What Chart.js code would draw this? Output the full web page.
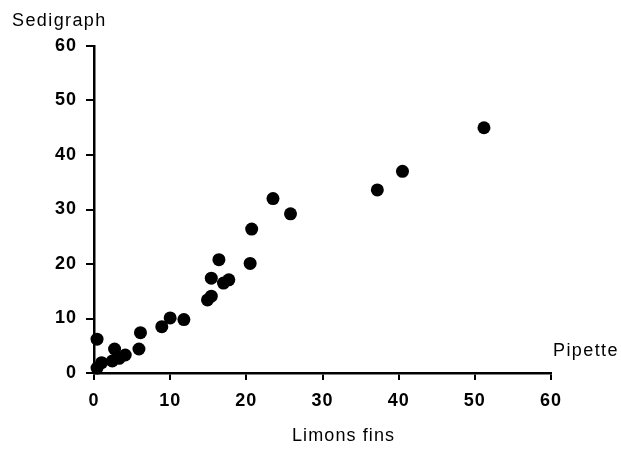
<!DOCTYPE html>
<html>
<head>
<meta charset="utf-8">
<script src="https://cdn.jsdelivr.net/npm/chart.js@4.4.1/dist/chart.umd.min.js"></script>
<style>
  html, body { margin: 0; padding: 0; background: #ffffff; }
  #wrap { width: 621px; height: 451px; position: relative; }
</style>
</head>
<body>
<div id="wrap"><canvas id="c" width="621" height="451"></canvas></div>
<script>
// Pipette (x) vs Sedigraph (y), "Limons fins"
const pipette   = [0.4, 0.4, 1.0, 2.4, 2.7, 3.3, 4.1, 5.9, 6.1, 8.9, 10.0, 11.8, 14.9, 15.4, 15.4, 16.4, 17.0, 17.7, 20.5, 20.7, 23.5, 25.8, 37.2, 40.5, 51.2];
const sedigraph = [6.2, 0.9, 1.9, 2.2, 4.4, 2.7, 3.3, 4.4, 7.4, 8.5, 10.1, 9.8, 13.4, 14.1, 17.4, 20.8, 16.5, 17.1, 20.1, 26.4, 32.0, 29.2, 33.6, 37.0, 45.0];
const tickValues = [0, 10, 20, 30, 40, 50, 60];
const xTitle = 'Limons fins';
const yTitle = 'Sedigraph';
const xEndLabel = 'Pipette';

const points = pipette.map((x, i) => ({ x: x, y: sedigraph[i] }));
const FONT = "'Liberation Sans', Arial, Helvetica, sans-serif";

const spacingPlugin = {
  id: 'spacing',
  beforeDraw(chart) {
    if ('letterSpacing' in chart.ctx) chart.ctx.letterSpacing = '1px';
  }
};

const textPlugin = {
  id: 'texts',
  afterDraw(chart) {
    const ctx = chart.ctx;
    ctx.save();
    ctx.fillStyle = '#000';
    ctx.font = '18px ' + FONT;
    ctx.textBaseline = 'alphabetic';
    ctx.textAlign = 'left';
    if ('letterSpacing' in ctx) ctx.letterSpacing = '1.4px';
    ctx.fillText(yTitle, 12, 26);
    ctx.fillText(xEndLabel, 553, 356);
    if ('letterSpacing' in ctx) ctx.letterSpacing = '1.1px';
    ctx.fillText(xTitle, 292, 441);
    ctx.restore();
    if ('letterSpacing' in ctx) ctx.letterSpacing = '0px';
  }
};

new Chart(document.getElementById('c'), {
  type: 'scatter',
  data: {
    datasets: [{
      data: points,
      backgroundColor: '#000',
      borderColor: '#000',
      pointRadius: 6.5,
      pointHoverRadius: 6.5,
      borderWidth: 0,
      clip: false
    }]
  },
  options: {
    responsive: false,
    animation: false,
    events: [],
    layout: { padding: { left: 0, right: 70, top: 46, bottom: 0 } },
    plugins: { legend: { display: false }, tooltip: { enabled: false } },
    scales: {
      x: {
        type: 'linear', min: 0, max: 60,
        afterBuildTicks(s) { s.ticks = tickValues.map(v => ({ value: v })); },
        afterFit(s) { s.height = 78; },
        border: { display: true, color: '#000', width: 2.5 },
        grid: { display: true, drawOnChartArea: false, drawTicks: true, tickLength: 7, tickColor: '#000', lineWidth: 2 },
        ticks: { color: '#000', font: { family: FONT, size: 18, weight: 'bold' }, padding: 10, maxRotation: 0 }
      },
      y: {
        type: 'linear', min: 0, max: 60,
        afterBuildTicks(s) { s.ticks = tickValues.map(v => ({ value: v })); },
        afterFit(s) { s.width = 94; },
        border: { display: true, color: '#000', width: 2.5 },
        grid: { display: true, drawOnChartArea: false, drawTicks: true, tickLength: 8, tickColor: '#000', lineWidth: 2 },
        ticks: { color: '#000', font: { family: FONT, size: 18, weight: 'bold' }, padding: 9 }
      }
    }
  },
  plugins: [spacingPlugin, textPlugin]
});
</script>
</body>
</html>
